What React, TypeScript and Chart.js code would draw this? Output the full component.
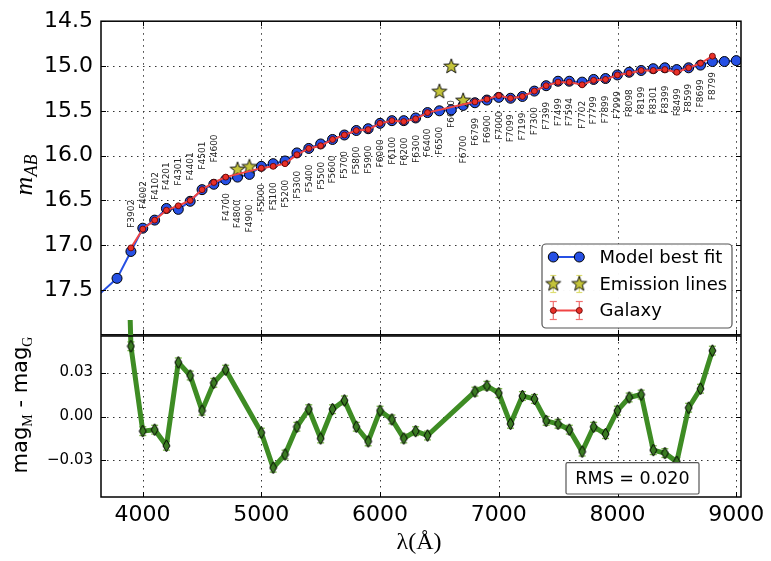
import React, { useEffect, useRef } from 'react';
import { Chart, registerables } from 'chart.js';

Chart.register(...registerables);

// ---------------- data ----------------
const FILTER_WL = [3902, 4002, 4102, 4201, 4301, 4401, 4501, 4600, 4700, 4800, 4900, 5000, 5100, 5200, 5300, 5400, 5500, 5600, 5700, 5800, 5900, 6000, 6100, 6200, 6300, 6400, 6500, 6600, 6700, 6799, 6900, 7000, 7099, 7199, 7300, 7399, 7499, 7594, 7702, 7799, 7899, 7999, 8098, 8199, 8301, 8399, 8499, 8599, 8699, 8799];
const MODEL_FILTER_MAG = [17.07, 16.81, 16.72, 16.59, 16.60, 16.51, 16.38, 16.32, 16.27, 16.24, 16.21, 16.12, 16.09, 16.06, 15.97, 15.92, 15.87, 15.82, 15.77, 15.72, 15.70, 15.64, 15.61, 15.61, 15.58, 15.52, 15.50, 15.49, 15.44, 15.41, 15.38, 15.35, 15.36, 15.34, 15.28, 15.22, 15.17, 15.17, 15.18, 15.15, 15.14, 15.10, 15.07, 15.05, 15.03, 15.02, 15.04, 15.02, 14.99, 14.95];
const MODEL_EXTRA_WL = [3600, 3785, 8900, 9000];
const MODEL_EXTRA_MAG = [17.59, 17.37, 14.95, 14.94];

const GALAXY_WL = [3902, 4002, 4102, 4201, 4301, 4401, 4501, 4600, 4700, 5000, 5100, 5200, 5300, 5400, 5500, 5600, 5700, 5800, 5900, 6000, 6100, 6200, 6300, 6400, 6799, 6900, 7000, 7099, 7199, 7300, 7399, 7499, 7594, 7702, 7799, 7899, 7999, 8098, 8199, 8301, 8399, 8499, 8599, 8699, 8799];
const GALAXY_MAG = [17.03, 16.82, 16.72, 16.61, 16.56, 16.50, 16.38, 16.30, 16.24, 16.14, 16.12, 16.09, 15.99, 15.92, 15.89, 15.82, 15.77, 15.72, 15.71, 15.64, 15.61, 15.62, 15.59, 15.52, 15.40, 15.37, 15.33, 15.36, 15.34, 15.28, 15.22, 15.18, 15.18, 15.21, 15.16, 15.15, 15.10, 15.08, 15.05, 15.05, 15.04, 15.07, 15.02, 14.97, 14.89];

const EMISSION_WL = [4800, 4900, 6500, 6600, 6700];
const EMISSION_MAG = [16.15, 16.12, 15.28, 15.00, 15.38];

const RESID_WL = [3800, 3902, 4002, 4102, 4201, 4301, 4401, 4501, 4600, 4700, 5000, 5100, 5200, 5300, 5400, 5500, 5600, 5700, 5800, 5900, 6000, 6100, 6200, 6300, 6400, 6799, 6900, 7000, 7099, 7199, 7300, 7399, 7499, 7594, 7702, 7799, 7899, 7999, 8098, 8199, 8301, 8399, 8499, 8599, 8699, 8799];
const RESID = [0.35, 0.048, -0.010, -0.009, -0.020, 0.037, 0.028, 0.004, 0.023, 0.032, -0.011, -0.035, -0.026, -0.007, 0.005, -0.015, 0.005, 0.011, -0.007, -0.017, 0.004, -0.002, -0.015, -0.010, -0.013, 0.017, 0.021, 0.016, -0.005, 0.014, 0.012, -0.003, -0.005, -0.009, -0.024, -0.007, -0.012, 0.004, 0.013, 0.015, -0.023, -0.025, -0.031, 0.006, 0.019, 0.045];
const RESID_ERR = 0.003;

const X_MIN = 3650;
const X_MAX = 9040;
const X_TICKS = [4000, 5000, 6000, 7000, 8000, 9000];
const TOP_Y_MIN = 14.5;
const TOP_Y_MAX = 18.0;
const TOP_Y_TICKS = [14.5, 15.0, 15.5, 16.0, 16.5, 17.0, 17.5];
const BOT_Y_MIN = -0.055;
const BOT_Y_MAX = 0.055;
const BOT_Y_TICKS = [-0.03, 0, 0.03];
const RMS_TEXT = 'RMS = 0.020';
const LEGEND_LABELS = ['Model best fit', 'Emission lines', 'Galaxy'];

// ---------------- style ----------------
const BLUE = '#2650e4';
const RED_LINE = '#f04444';
const RED_DOT = '#e83028';
const RED_ERR = '#f07070';
const STAR_FILL = '#c4c43a';
const STAR_ERR = '#dede72';
const GREEN = '#3e8c24';
const GREEN_ERR = '#7cbc4c';
const GRID = '#333';
const ABOVE_LIMIT = 4650;
const LABEL_NUDGE: Record<number, number> = { 4800: 7, 4900: 14, 6600: -26, 6700: 14 };
const BOTTOM_CANVAS_TOP = 300;

function makeStar(): HTMLCanvasElement {
  const c = document.createElement('canvas');
  c.width = 18; c.height = 18;
  const g = c.getContext('2d')!;
  g.beginPath();
  for (let i = 0; i < 10; i++) {
    const r = i % 2 === 0 ? 7.8 : 3.2;
    const a = -Math.PI / 2 + (i * Math.PI) / 5;
    const px = 9 + r * Math.cos(a);
    const py = 9.6 + r * Math.sin(a);
    if (i === 0) g.moveTo(px, py); else g.lineTo(px, py);
  }
  g.closePath();
  g.fillStyle = STAR_FILL;
  g.fill();
  g.strokeStyle = '#000';
  g.lineWidth = 0.9;
  g.stroke();
  return c;
}

function makeDiamond(): HTMLCanvasElement {
  const c = document.createElement('canvas');
  c.width = 9; c.height = 14;
  const g = c.getContext('2d')!;
  g.beginPath();
  g.moveTo(4.5, 1); g.lineTo(8, 7); g.lineTo(4.5, 13); g.lineTo(1, 7);
  g.closePath();
  g.fillStyle = '#3a7a22';
  g.fill();
  g.strokeStyle = '#000';
  g.lineWidth = 1;
  g.stroke();
  return c;
}

function roundRectPath(ctx: CanvasRenderingContext2D, x: number, y: number, w: number, h: number, r: number) {
  ctx.beginPath();
  ctx.moveTo(x + r, y);
  ctx.arcTo(x + w, y, x + w, y + h, r);
  ctx.arcTo(x + w, y + h, x, y + h, r);
  ctx.arcTo(x, y + h, x, y, r);
  ctx.arcTo(x, y, x + w, y, r);
  ctx.closePath();
}

function drawGrid(ctx: CanvasRenderingContext2D, a: any, xpx: number[], ypx: number[]) {
  ctx.save();
  ctx.strokeStyle = GRID;
  ctx.lineWidth = 1;
  ctx.setLineDash([1.5, 4.5]);
  xpx.forEach((x) => {
    if (x > a.left + 1 && x < a.right - 1) {
      const xx = Math.round(x) + 0.5;
      ctx.beginPath(); ctx.moveTo(xx, a.top); ctx.lineTo(xx, a.bottom); ctx.stroke();
    }
  });
  ypx.forEach((y) => {
    if (y > a.top + 1 && y < a.bottom - 1) {
      const yy = Math.round(y) + 0.5;
      ctx.beginPath(); ctx.moveTo(a.left, yy); ctx.lineTo(a.right, yy); ctx.stroke();
    }
  });
  ctx.restore();
}

function drawFrame(ctx: CanvasRenderingContext2D, a: any, xpx: number[], ypx: number[]) {
  ctx.save();
  ctx.setLineDash([]);
  ctx.strokeStyle = '#000';
  ctx.lineWidth = 1.5;
  ctx.strokeRect(a.left, a.top, a.right - a.left, a.bottom - a.top);
  ctx.lineWidth = 1;
  const L = 5;
  const seg = (x1: number, y1: number, x2: number, y2: number) => {
    ctx.beginPath(); ctx.moveTo(x1, y1); ctx.lineTo(x2, y2); ctx.stroke();
  };
  xpx.forEach((x) => {
    const xx = Math.round(x) + 0.5;
    seg(xx, a.top, xx, a.top + L);
    seg(xx, a.bottom, xx, a.bottom - L);
  });
  ypx.forEach((y) => {
    const yy = Math.round(y) + 0.5;
    seg(a.left, yy, a.left + L, yy);
    seg(a.right, yy, a.right - L, yy);
  });
  ctx.restore();
}

function drawRotatedParts(ctx: CanvasRenderingContext2D, bx: number, cy: number, parts: { text: string; font: string; dy: number }[]) {
  ctx.save();
  ctx.translate(bx, cy);
  ctx.rotate(-Math.PI / 2);
  ctx.textBaseline = 'alphabetic';
  ctx.textAlign = 'left';
  ctx.fillStyle = '#000';
  const widths = parts.map((p) => { ctx.font = p.font; return ctx.measureText(p.text).width; });
  const total = widths.reduce((s, w) => s + w, 0);
  let x = -total / 2;
  parts.forEach((p, i) => {
    ctx.font = p.font;
    ctx.fillText(p.text, x, p.dy);
    x += widths[i];
  });
  ctx.restore();
}

function errBar(ctx: CanvasRenderingContext2D, x: number, y1: number, y2: number, cap: number) {
  ctx.beginPath(); ctx.moveTo(x, y1); ctx.lineTo(x, y2); ctx.stroke();
  ctx.beginPath(); ctx.moveTo(x - cap, y1); ctx.lineTo(x + cap, y1); ctx.stroke();
  ctx.beginPath(); ctx.moveTo(x - cap, y2); ctx.lineTo(x + cap, y2); ctx.stroke();
}

function drawLegend(ctx: CanvasRenderingContext2D, star: HTMLCanvasElement) {
  const bx = 542, by = 244, bw = 190, bh = 84;
  ctx.save();
  roundRectPath(ctx, bx, by, bw, bh, 4);
  ctx.fillStyle = 'rgba(255,255,255,0.96)';
  ctx.fill();
  ctx.strokeStyle = '#555';
  ctx.lineWidth = 1.2;
  ctx.stroke();
  const x1 = 553.3, x2 = 579.3, tx = 599.5;
  const rows = [257, 284, 310.5];
  // Model best fit
  ctx.strokeStyle = BLUE; ctx.lineWidth = 2;
  ctx.beginPath(); ctx.moveTo(x1, rows[0]); ctx.lineTo(x2, rows[0]); ctx.stroke();
  [x1, x2].forEach((x) => {
    ctx.beginPath(); ctx.arc(x, rows[0], 5, 0, Math.PI * 2);
    ctx.fillStyle = BLUE; ctx.fill();
    ctx.strokeStyle = '#000'; ctx.lineWidth = 1; ctx.stroke();
  });
  // Emission lines
  ctx.strokeStyle = STAR_ERR; ctx.lineWidth = 1.2;
  [x1, x2].forEach((x) => errBar(ctx, x, rows[1] - 8.5, rows[1] + 8.5, 3));
  [x1, x2].forEach((x) => ctx.drawImage(star, x - 9, rows[1] - 9.6));
  // Galaxy
  ctx.strokeStyle = RED_ERR; ctx.lineWidth = 1.2;
  [x1, x2].forEach((x) => errBar(ctx, x, rows[2] - 9, rows[2] + 9, 3.5));
  ctx.strokeStyle = RED_LINE; ctx.lineWidth = 2;
  ctx.beginPath(); ctx.moveTo(x1, rows[2]); ctx.lineTo(x2, rows[2]); ctx.stroke();
  [x1, x2].forEach((x) => {
    ctx.beginPath(); ctx.arc(x, rows[2], 3, 0, Math.PI * 2);
    ctx.fillStyle = RED_DOT; ctx.fill();
    ctx.strokeStyle = '#5a0000'; ctx.lineWidth = 0.8; ctx.stroke();
  });
  ctx.fillStyle = '#000';
  ctx.font = '18px "DejaVu Sans"';
  ctx.textAlign = 'left';
  ctx.textBaseline = 'middle';
  LEGEND_LABELS.forEach((t, i) => ctx.fillText(t, tx, rows[i] + 1));
  ctx.restore();
}

export default function App() {
  const topRef = useRef<HTMLCanvasElement>(null);
  const botRef = useRef<HTMLCanvasElement>(null);

  useEffect(() => {
    Chart.defaults.font.family = 'DejaVu Sans';
    const star = makeStar();
    const diamond = makeDiamond();

    const modelPts = FILTER_WL.map((w, i) => ({ x: w, y: MODEL_FILTER_MAG[i] }))
      .concat(MODEL_EXTRA_WL.map((w, i) => ({ x: w, y: MODEL_EXTRA_MAG[i] })))
      .sort((a, b) => a.x - b.x);
    const galaxyPts = GALAXY_WL.map((w, i) => ({ x: w, y: GALAXY_MAG[i] }));
    const emissionPts = EMISSION_WL.map((w, i) => ({ x: w, y: EMISSION_MAG[i] }));
    const residPts = RESID_WL.map((w, i) => ({ x: w, y: RESID[i] }));

    const topPlugin = {
      id: 'topDecor',
      beforeDatasetsDraw(chart: any) {
        const { ctx, chartArea: a, scales } = chart;
        const xs = scales.x, ys = scales.y;
        drawGrid(ctx, a, X_TICKS.map((v) => xs.getPixelForValue(v)), TOP_Y_TICKS.map((v) => ys.getPixelForValue(v)));
        ctx.save();
        ctx.font = '9px "DejaVu Sans"';
        ctx.fillStyle = '#222';
        ctx.textBaseline = 'middle';
        FILTER_WL.forEach((wl, i) => {
          const gi = GALAXY_WL.indexOf(wl);
          const ref = gi >= 0 ? GALAXY_MAG[gi] : MODEL_FILTER_MAG[i];
          const px = xs.getPixelForValue(wl);
          const py = ys.getPixelForValue(ref);
          ctx.save();
          if (wl < ABOVE_LIMIT) {
            ctx.translate(px, py - 20);
            ctx.rotate(-Math.PI / 2);
            ctx.textAlign = 'left';
          } else {
            ctx.translate(px, py + 16 + (LABEL_NUDGE[wl] || 0));
            ctx.rotate(-Math.PI / 2);
            ctx.textAlign = 'right';
          }
          ctx.fillText('F' + wl, 0, 0.5);
          ctx.restore();
        });
        ctx.restore();
      },
      afterDatasetsDraw(chart: any) {
        const { ctx, chartArea: a, scales } = chart;
        const xs = scales.x, ys = scales.y;
        drawFrame(ctx, a, X_TICKS.map((v) => xs.getPixelForValue(v)), TOP_Y_TICKS.map((v) => ys.getPixelForValue(v)));
        drawLegend(ctx, star);
        drawRotatedParts(ctx, 32, (a.top + a.bottom) / 2 - 3, [
          { text: 'm', font: 'italic 26px "Liberation Serif"', dy: 0 },
          { text: 'AB', font: 'italic 18px "Liberation Serif"', dy: 5 },
        ]);
      },
    };

    const botPlugin = {
      id: 'botDecor',
      beforeDatasetsDraw(chart: any) {
        const { ctx, chartArea: a, scales } = chart;
        const xs = scales.x, ys = scales.y;
        drawGrid(ctx, a, X_TICKS.map((v) => xs.getPixelForValue(v)), BOT_Y_TICKS.map((v) => ys.getPixelForValue(v)));
        ctx.save();
        ctx.beginPath();
        ctx.rect(a.left, a.top, a.right - a.left, a.bottom - a.top);
        ctx.clip();
        ctx.strokeStyle = GREEN_ERR;
        ctx.lineWidth = 1.3;
        RESID_WL.forEach((wl, i) => {
          const x = xs.getPixelForValue(wl);
          errBar(ctx, x, ys.getPixelForValue(RESID[i] + RESID_ERR), ys.getPixelForValue(RESID[i] - RESID_ERR), 3.5);
        });
        ctx.restore();
      },
      afterDatasetsDraw(chart: any) {
        const { ctx, chartArea: a, scales } = chart;
        const xs = scales.x, ys = scales.y;
        drawFrame(ctx, a, X_TICKS.map((v) => xs.getPixelForValue(v)), BOT_Y_TICKS.map((v) => ys.getPixelForValue(v)));
        // RMS box
        ctx.save();
        const rx = 566, ry = 462.7 - BOTTOM_CANVAS_TOP, rw = 133, rh = 31.3;
        roundRectPath(ctx, rx, ry, rw, rh, 1.5);
        ctx.fillStyle = '#fff';
        ctx.fill();
        ctx.strokeStyle = '#555';
        ctx.lineWidth = 1.2;
        ctx.stroke();
        ctx.fillStyle = '#000';
        ctx.font = '17.5px "DejaVu Sans"';
        ctx.textAlign = 'center';
        ctx.textBaseline = 'middle';
        ctx.fillText(RMS_TEXT, rx + rw / 2, ry + rh / 2 + 1);
        // x title
        ctx.font = '24px "Liberation Serif"';
        ctx.textBaseline = 'alphabetic';
        ctx.fillText('\u03bb(\u00c5)', 419, 549 - BOTTOM_CANVAS_TOP);
        ctx.restore();
        drawRotatedParts(ctx, 27, 405 - BOTTOM_CANVAS_TOP, [
          { text: 'mag', font: '21px "DejaVu Sans"', dy: 0 },
          { text: 'M', font: '14px "Liberation Serif"', dy: 5 },
          { text: ' - mag', font: '21px "DejaVu Sans"', dy: 0 },
          { text: 'G', font: '14px "Liberation Serif"', dy: 5 },
        ]);
      },
    };

    const top = new Chart(topRef.current!, {
      type: 'scatter',
      data: {
        datasets: [
          {
            label: 'Galaxy', data: galaxyPts, showLine: true, borderColor: RED_LINE, borderWidth: 2,
            pointRadius: 3, pointBackgroundColor: RED_DOT, pointBorderColor: '#5a0000', pointBorderWidth: 0.8, order: 1,
          },
          {
            label: 'Emission lines', data: emissionPts, showLine: false, pointStyle: star as any, pointRadius: 8, order: 2,
          },
          {
            label: 'Model best fit', data: modelPts, showLine: true, borderColor: BLUE, borderWidth: 2,
            pointRadius: 5, pointBackgroundColor: BLUE, pointBorderColor: '#000', pointBorderWidth: 1, order: 3,
          },
        ] as any,
      },
      options: {
        responsive: false,
        animation: false,
        devicePixelRatio: 1,
        events: [],
        layout: { padding: { left: 0, right: 30, top: 16, bottom: 20 } },
        plugins: { legend: { display: false }, tooltip: { enabled: false } },
        scales: {
          x: { type: 'linear', min: X_MIN, max: X_MAX, display: false },
          y: {
            type: 'linear', reverse: true, min: TOP_Y_MIN, max: TOP_Y_MAX,
            afterFit: (s: any) => { s.width = 101; },
            afterBuildTicks: (s: any) => { s.ticks = TOP_Y_TICKS.map((v) => ({ value: v })); },
            grid: { display: false, drawTicks: false },
            border: { display: false },
            ticks: {
              padding: 8, color: '#000', font: { size: 22, family: 'DejaVu Sans' },
              callback: (v: any) => Number(v).toFixed(1),
            },
          },
        },
      } as any,
      plugins: [topPlugin],
    });

    const bot = new Chart(botRef.current!, {
      type: 'scatter',
      data: {
        datasets: [
          {
            label: 'residual', data: residPts, showLine: true, borderColor: GREEN, borderWidth: 5,
            borderJoinStyle: 'round', pointStyle: diamond as any, pointRadius: 4,
            clip: { left: 0, top: 16, right: 0, bottom: 0 },
          },
        ] as any,
      },
      options: {
        responsive: false,
        animation: false,
        devicePixelRatio: 1,
        events: [],
        layout: { padding: { left: 0, right: 30, top: 36, bottom: 24 } },
        plugins: { legend: { display: false }, tooltip: { enabled: false } },
        scales: {
          x: {
            type: 'linear', min: X_MIN, max: X_MAX,
            afterFit: (s: any) => { s.height = 40; },
            afterBuildTicks: (s: any) => { s.ticks = X_TICKS.map((v) => ({ value: v })); },
            grid: { display: false, drawTicks: false },
            border: { display: false },
            ticks: {
              padding: 5, color: '#000', font: { size: 22, family: 'DejaVu Sans' },
              autoSkip: false, maxRotation: 0, minRotation: 0,
              callback: (v: any) => String(v),
            },
          },
          y: {
            type: 'linear', min: BOT_Y_MIN, max: BOT_Y_MAX,
            afterFit: (s: any) => { s.width = 101; },
            afterBuildTicks: (s: any) => { s.ticks = BOT_Y_TICKS.map((v) => ({ value: v })); },
            grid: { display: false, drawTicks: false },
            border: { display: false },
            ticks: {
              padding: 8, color: '#000', font: { size: 15, family: 'DejaVu Sans' },
              callback: (v: any) => {
                const n = Number(v);
                const s = Math.abs(n).toFixed(2);
                return n < -1e-9 ? '\u2212' + s : s;
              },
            },
          },
        },
      } as any,
      plugins: [botPlugin],
    });

    return () => {
      top.destroy();
      bot.destroy();
    };
  }, []);

  return (
    <div style={{ position: 'absolute', left: 0, top: 0, width: 771, height: 561, background: '#fff', overflow: 'hidden' }}>
      <canvas ref={topRef} width={771} height={356} style={{ position: 'absolute', left: 0, top: 0, width: 771, height: 356 }} />
      <canvas ref={botRef} width={771} height={261} style={{ position: 'absolute', left: 0, top: BOTTOM_CANVAS_TOP, width: 771, height: 261 }} />
    </div>
  );
}
